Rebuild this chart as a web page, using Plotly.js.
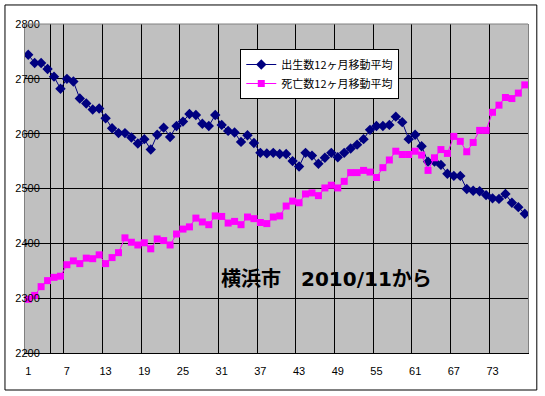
<!DOCTYPE html>
<html>
<head>
<meta charset="utf-8">
<script src="https://cdn.plot.ly/plotly-3.0.1.min.js"></script>
<style>
html,body{margin:0;padding:0;background:#fff;}
#chart{width:545px;height:396px;}
</style>
</head>
<body>
<div id="chart"></div>
<script>
// category index (months from 2010/11)
const months = [];
for (let i = 1; i <= 78; i++) months.push(i);

const birthName = "出生数12ヶ月移動平均";
const deathName = "死亡数12ヶ月移動平均";

const births = [
  2744, 2729, 2729, 2718, 2704, 2682, 2700, 2695, 2664, 2655,
  2644, 2646, 2628, 2610, 2601, 2601, 2593, 2582, 2590, 2571,
  2598, 2611, 2594, 2614, 2622, 2636, 2634, 2618, 2614, 2634,
  2616, 2605, 2602, 2585, 2597, 2583, 2565, 2564, 2565, 2563,
  2563, 2550, 2540, 2565, 2560, 2545, 2556, 2565, 2557, 2565,
  2573, 2580, 2590, 2607, 2614, 2614, 2616, 2631, 2621, 2590,
  2598, 2577, 2549, 2549, 2543, 2527, 2523, 2523, 2499, 2496,
  2495, 2488, 2482, 2481, 2490, 2474, 2466, 2454
];

const deaths = [
  2298, 2305, 2321, 2332, 2338, 2340, 2361, 2368, 2363, 2373,
  2372, 2379, 2363, 2374, 2383, 2410, 2402, 2397, 2401, 2390,
  2408, 2405, 2397, 2417, 2426, 2430, 2446, 2439, 2434, 2450,
  2449, 2437, 2440, 2434, 2448, 2445, 2438, 2436, 2448, 2450,
  2468, 2477, 2474, 2490, 2492, 2487, 2501, 2506, 2501, 2513,
  2529, 2529, 2533, 2530, 2520, 2538, 2552, 2568, 2562, 2562,
  2568, 2561, 2533, 2556, 2571, 2564, 2595, 2586, 2567, 2584,
  2606, 2606, 2639, 2652, 2666, 2664, 2674, 2689
];

const xTickVals = [1, 7, 13, 19, 25, 31, 37, 43, 49, 55, 61, 67, 73];
const xTickText = ["1", "7", "13", "19", "25", "31", "37", "43", "49", "55", "61", "67", "73"];
const xGridVals = [4.5, 6.5, 12.5, 18.5, 24.5, 30.5, 36.5, 42.5, 48.5, 54.5, 60.5, 66.5, 72.5];
const yTickVals = [2200, 2300, 2400, 2500, 2600, 2700, 2800];

const annoCity = "横浜市　";
const annoDate = "2010/11";
const annoSuffix = "から";

const traces = [
  {
    x: months, y: births, name: birthName, type: "scatter", mode: "lines+markers",
    line: {color: "#000080", width: 1},
    marker: {symbol: "diamond", size: 8, color: "#000080"}
  },
  {
    x: months, y: deaths, name: deathName, type: "scatter", mode: "lines+markers",
    line: {color: "#FF00FF", width: 1},
    marker: {symbol: "square", size: 7, color: "#FF00FF"}
  }
];

const tickFont = {family: "Liberation Sans, Arial, sans-serif", size: 11, color: "#000"};

const layout = {
  width: 545, height: 396,
  margin: {l: 25, r: 17, t: 24, b: 43},
  paper_bgcolor: "#FFFFFF",
  plot_bgcolor: "#C0C0C0",
  showlegend: true,
  legend: {
    x: 0.428, y: 0.924, xanchor: "left", yanchor: "top",
    bgcolor: "#FFFFFF", bordercolor: "#000", borderwidth: 1,
    font: {family: "Noto Sans CJK JP, sans-serif", size: 11, color: "#000"},
    tracegroupgap: 0, itemwidth: 30
  },
  xaxis: {
    range: [0.5, 78.5], autorange: false,
    tickmode: "array", tickvals: xTickVals, ticktext: xTickText,
    showgrid: false, zeroline: false,
    showline: true, linecolor: "#000", linewidth: 1,
    ticks: "", tickfont: tickFont, ticklabelstandoff: 8,
    minor: {tickmode: "array", tickvals: xGridVals, showgrid: true, gridcolor: "#000", gridwidth: 1, ticks: ""}
  },
  yaxis: {
    range: [2200, 2800], autorange: false,
    tickmode: "array", tickvals: yTickVals,
    showgrid: true, gridcolor: "#000", gridwidth: 1, zeroline: false,
    showline: true, linecolor: "#808080", linewidth: 1, mirror: true,
    ticks: "", tickfont: tickFont, ticklabelstandoff: -18
  },
  shapes: [
    {type: "line", xref: "paper", yref: "paper", x0: 0, x1: 1, y0: 1, y1: 1, line: {color: "#808080", width: 1}},
    {type: "rect", xref: "paper", yref: "paper", x0: -0.0398, x1: 1.0175, y0: -0.1125, y1: 1.0578,
     line: {color: "#000", width: 1}, fillcolor: "rgba(0,0,0,0)", layer: "above"}
  ],
  annotations: [
    {xref: "paper", yref: "paper", x: 0.386, y: 0.228, xanchor: "left", yanchor: "middle",
     text: "<b>" + annoCity + "<span style='font-family:DejaVu Sans'>" + annoDate + "</span>" + annoSuffix + "</b>",
     showarrow: false,
     font: {family: "Noto Sans CJK JP, sans-serif", size: 20, color: "#000"}}
  ]
};

Plotly.newPlot("chart", traces, layout, {displayModeBar: false, staticPlot: true});
</script>
</body>
</html>
